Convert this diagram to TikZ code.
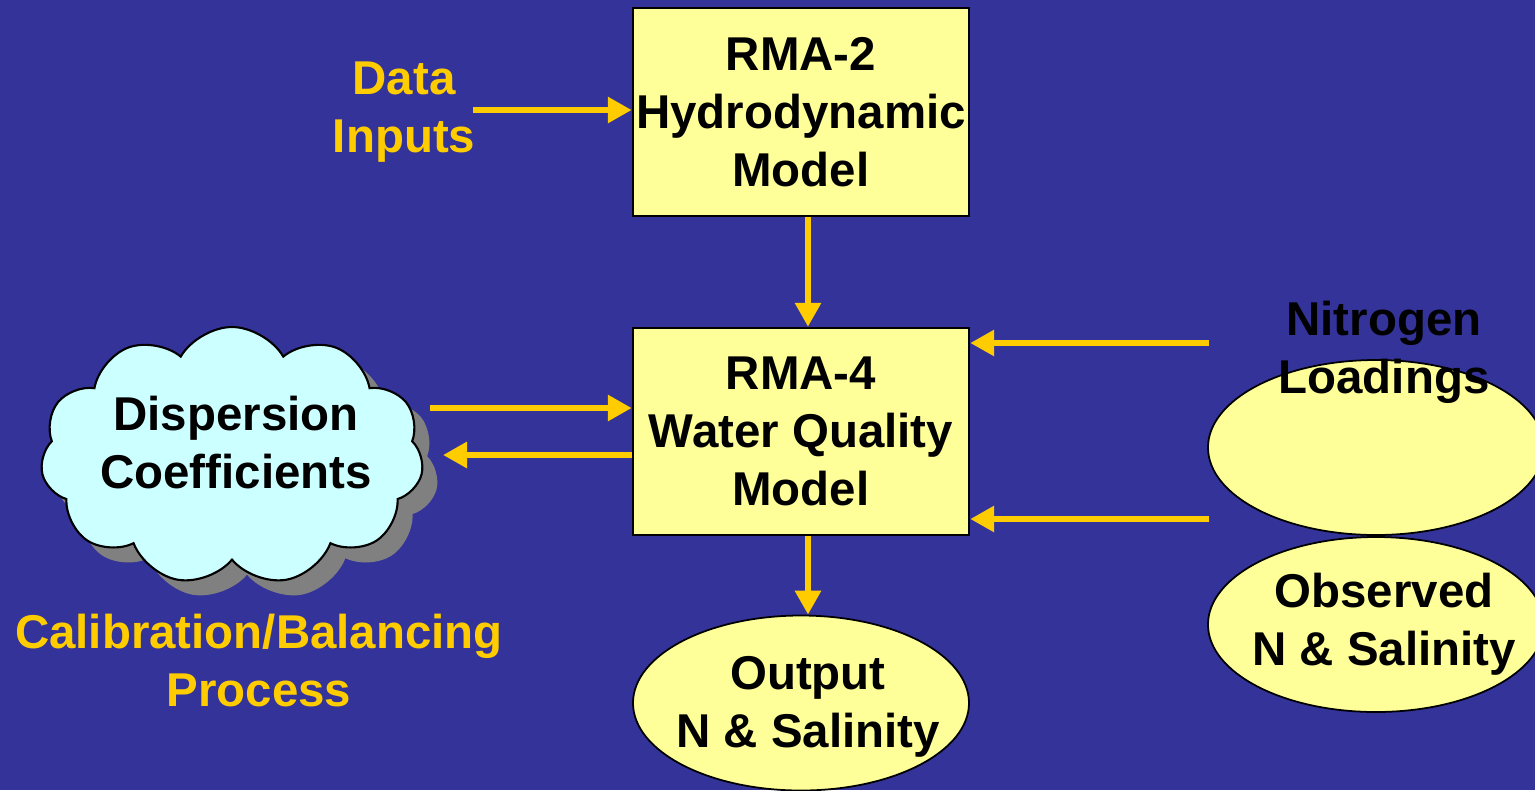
\documentclass[tikz,border=0pt]{standalone}
\usepackage{fontspec}
\setmainfont{Liberation Sans}
\usepackage{tikz}
\usetikzlibrary{shapes, shapes.geometric, shapes.symbols, arrows.meta}

\definecolor{slideblue}{HTML}{333399}
\definecolor{arrowgold}{HTML}{FFCC00}
\definecolor{boxyellow}{HTML}{FFFF99}
\definecolor{cloudcyan}{HTML}{CCFFFF}
\definecolor{shadowgray}{HTML}{808080}

\tikzset{
  bigtext/.style={font=\fontsize{13.5}{16.5}\selectfont\bfseries, align=center, inner sep=0pt},
  modelbox/.style={rectangle, draw=black, line width=0.7pt, fill=boxyellow,
    minimum width=3.36cm, minimum height=2.07cm, bigtext},
  dataoval/.style={ellipse, draw=black, line width=0.5pt, fill=boxyellow,
    minimum width=3.36cm, minimum height=1.75cm, inner sep=0pt},
  goldtext/.style={bigtext, text=arrowgold},
  flow/.style={draw=arrowgold, line width=0.06cm, -{Triangle[length=0.24cm,width=0.25cm]}},
  puffcloud/.style={cloud, cloud puffs=11, cloud puff arc=120, aspect=1.48,
    minimum width=3.83cm, minimum height=2.58cm, inner sep=0pt}
}

\begin{document}
\begin{tikzpicture}
    % BACKGROUND
    \useasboundingbox (0,0) rectangle (15.35,-7.9);
    \clip (0,0) rectangle (15.35,-7.9);
    \fill[slideblue] (0,0) rectangle (15.35,-7.9);
    % MODELS
    \node[modelbox, minimum height=2.08cm] (rma2) at (8.01,-1.12) {RMA-2\\Hydrodynamic\\Model};
    \node[modelbox] (rma4) at (8.01,-4.315) {RMA-4\\Water Quality\\Model};
    % data inputs
    \node[goldtext] (data) at (4.04,-1.125) {Data\\Inputs};
    \coordinate (data end) at (4.73,-1.10);
    % CLOUD
    % shadow first
    \node[puffcloud, fill=shadowgray] (cloud shadow) at (2.47,-4.71) {};
    \node[puffcloud, draw=black, line width=0.6pt, fill=cloudcyan] (cloud) at (2.32,-4.56) {};
    \node[bigtext] (disp) at (2.36,-4.43) {Dispersion\\Coefficients};
    \node[goldtext] (calib) at (2.59,-6.61) {Calibration/Balancing\\Process};
    % OVALS
    \node[dataoval] (out) at (8.01,-7.03) {};
    \node[bigtext] (out text) at (8.08,-7.07) {Output\\N \& Salinity};
    \node[dataoval] (load) at (13.76,-4.475) {};
    \node[bigtext] (load text) at (13.84,-3.52) {Nitrogen\\Loadings};
    \node[dataoval] (obs) at (13.76,-6.245) {};
    \node[bigtext] (obs text) at (13.84,-6.24) {Observed\\N \& Salinity};
    % ARROWS
    \draw[flow] (data end) -- (data end -| rma2.west);
    \draw[flow] ([xshift=.07cm]rma2.south) -- ([xshift=.07cm]rma4.north);
    % to and from the cloud
    \coordinate (cloud out) at (4.30,-4.08);
    \coordinate (cloud in) at (4.43,-4.55);
    \draw[flow] (cloud out) -- (cloud out -| rma4.west);
    \draw[flow] (cloud in -| rma4.west) -- (cloud in);
    \draw[flow] ([xshift=.07cm]rma4.south) -- ([xshift=.07cm]rma4.south |- out.north);
    % loadings and observations
    \coordinate (load end) at (12.09,-3.43);
    \coordinate (obs end) at (12.09,-5.19);
    \draw[flow] (load end) -- (load end -| rma4.east);
    \draw[flow] (obs end) -- (obs end -| rma4.east);
\end{tikzpicture}
\end{document}
